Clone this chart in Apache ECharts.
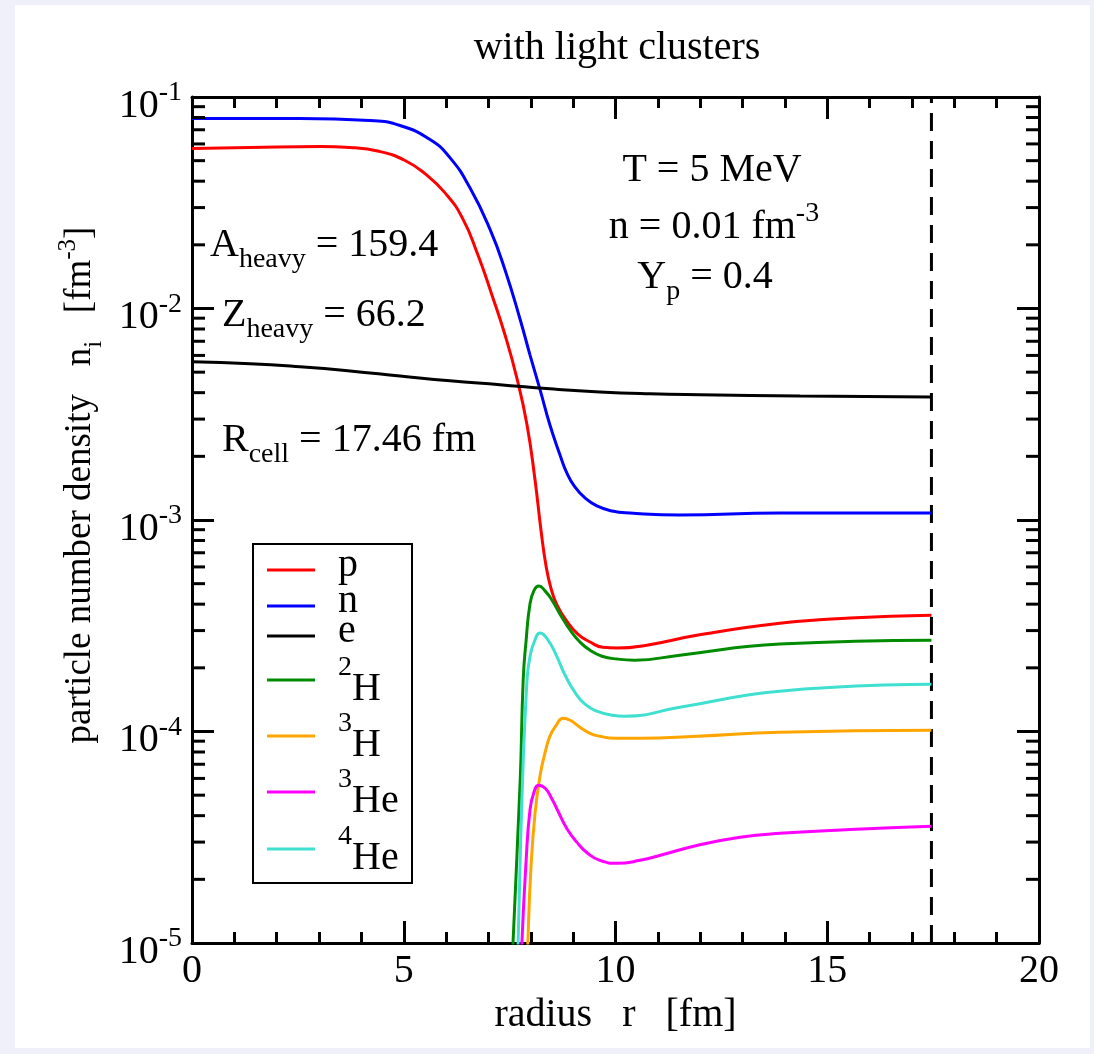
<!DOCTYPE html>
<html>
<head>
<meta charset="utf-8">
<script src="https://cdn.jsdelivr.net/npm/echarts@6/dist/echarts.min.js"></script>
<style>
  html, body { margin: 0; padding: 0; background: #f0f0fa; }
  #panel { position: absolute; left: 15px; top: 5px; width: 1075px; height: 1043px; background: #ffffff; }
  #chart { position: absolute; left: 0; top: 0; width: 1094px; height: 1054px; }
</style>
</head>
<body>
<div id="panel"></div>
<div id="chart"></div>
<script>
// Wigner-Seitz cell radius [fm]
const R_CELL = 17.46;

// radius r [fm] and number density n_i [fm^-3] for each particle species
const rP = [0, 1.37, 3.02, 3.73, 4.44, 5.03, 5.50, 5.97, 6.38, 6.75, 7.08, 7.39, 7.67, 7.91, 8.10, 8.24, 8.36, 8.48, 8.62, 8.85, 9.11, 9.40, 9.70, 10.04, 10.74, 11.92, 13.88, 15.54, 17.46];
const nP = [0.0571, 0.0577, 0.0583, 0.0577, 0.0552, 0.0501, 0.0434, 0.0353, 0.0269, 0.01796, 0.01162, 0.00751, 0.00470, 0.00282, 0.001546, 0.000897, 0.000606, 0.000472, 0.000396, 0.000333, 0.000289, 0.000265, 0.000250, 0.000248, 0.000256, 0.000285, 0.000325, 0.000344, 0.000355];

const rN = [0, 2.55, 4.20, 4.91, 5.62, 6.09, 6.56, 7.04, 7.39, 7.75, 7.98, 8.22, 8.45, 8.69, 8.85, 9.04, 9.28, 9.56, 9.92, 10.34, 11.52, 13.88, 17.46];
const nN = [0.0791, 0.0791, 0.0774, 0.0733, 0.0629, 0.0517, 0.0373, 0.0236, 0.01526, 0.00885, 0.00604, 0.00412, 0.00282, 0.00203, 0.001669, 0.001433, 0.001271, 0.001165, 0.001103, 0.001079, 0.001056, 0.001079, 0.001079];

const rE = [0, 1.37, 2.55, 3.73, 4.91, 6.09, 7.27, 8.45, 9.63, 10.81, 12.00, 14.36, 17.46];
const nE = [0.00560, 0.00548, 0.00530, 0.00507, 0.00480, 0.00455, 0.00436, 0.00417, 0.00403, 0.00395, 0.00391, 0.00386, 0.00382];

const r2H = [7.53, 7.58, 7.75, 7.82, 7.89, 7.98, 8.08, 8.19, 8.34, 8.50, 8.69, 8.93, 9.16, 9.40, 9.68, 10.04, 10.46, 11.52, 13.88, 17.46];
const n2H = [5e-6, 1e-5, 5.88e-5, 1.748e-4, 2.70e-4, 4.00e-4, 4.66e-4, 4.87e-4, 4.61e-4, 4.18e-4, 3.59e-4, 3.015e-4, 2.65e-4, 2.42e-4, 2.27e-4, 2.20e-4, 2.174e-4, 2.296e-4, 2.59e-4, 2.70e-4];

const r3H = [7.88, 7.93, 8.00, 8.10, 8.22, 8.34, 8.45, 8.60, 8.76, 8.93, 9.16, 9.40, 9.63, 9.99, 10.58, 11.92, 13.88, 17.46];
const n3H = [5e-6, 1e-5, 2.20e-5, 4.10e-5, 6.21e-5, 7.98e-5, 9.49e-5, 1.070e-4, 1.155e-4, 1.130e-4, 1.047e-4, 9.81e-5, 9.49e-5, 9.29e-5, 9.29e-5, 9.49e-5, 9.92e-5, 1.014e-4];

const r3He = [7.75, 7.79, 7.89, 7.98, 8.08, 8.19, 8.34, 8.48, 8.62, 8.85, 9.09, 9.35, 9.63, 10.04, 10.58, 11.12, 11.92, 12.94, 13.88, 15.54, 17.46];
const n3He = [5e-6, 1e-5, 2.46e-5, 4.24e-5, 5.21e-5, 5.57e-5, 5.39e-5, 4.88e-5, 4.29e-5, 3.48e-5, 2.99e-5, 2.65e-5, 2.46e-5, 2.38e-5, 2.46e-5, 2.62e-5, 2.89e-5, 3.16e-5, 3.30e-5, 3.44e-5, 3.56e-5];

const r4He = [7.65, 7.70, 7.79, 7.91, 7.98, 8.08, 8.22, 8.41, 8.60, 8.81, 9.04, 9.28, 9.56, 9.92, 10.22, 11.52, 13.88, 17.46];
const n4He = [5e-6, 1e-5, 4.73e-5, 1.748e-4, 2.25e-4, 2.65e-4, 2.92e-4, 2.70e-4, 2.296e-4, 1.846e-4, 1.534e-4, 1.346e-4, 1.247e-4, 1.194e-4, 1.181e-4, 1.302e-4, 1.551e-4, 1.674e-4];

// species: legend label (rich text), colour, radii, densities
const speciesLabels = ['p', 'n', 'e', '{s|2}{b|H}', '{s|3}{b|H}', '{s|3}{b|He}', '{s|4}{b|He}'];
const speciesColors = ['#ff0000', '#0000ff', '#000000', '#008b00', '#ffa500', '#ff00ff', '#40e0d0'];
const speciesR = [rP, rN, rE, r2H, r3H, r3He, r4He];
const speciesN = [nP, nN, nE, n2H, n3H, n3He, n4He];

// axis ranges
const X_MIN = 0, X_MAX = 20, X_STEP = 5;
const Y_MIN = 1e-5, Y_MAX = 1e-1;

const SERIF = 'Liberation Serif';
const FS = 40, FS_SMALL = 28;

const richText = {
  b:   { fontSize: FS, fontFamily: SERIF, fill: '#000' },
  sup: { fontSize: FS_SMALL, fontFamily: SERIF, fill: '#000', padding: [0, 0, 26, 0] },
  sub: { fontSize: FS_SMALL, fontFamily: SERIF, fill: '#000', padding: [30, 0, 0, 0] }
};
const richTitleY = {
  b:   { fontSize: 37, fontFamily: SERIF, fill: '#000' },
  sup: { fontSize: 25, fontFamily: SERIF, fill: '#000', padding: [0, 0, 24, 0] },
  sub: { fontSize: 25, fontFamily: SERIF, fill: '#000', padding: [28, 0, 0, 0] }
};

function zip(xs, ys) { return xs.map((x, i) => [x, ys[i]]); }

const chart = echarts.init(document.getElementById('chart'), null, { renderer: 'canvas' });

const grid = { left: 192, top: 97, right: 55, bottom: 111 };

// log-decade minor tick values (2..9 x 10^d)
const yMinor = [];
for (let d = -5; d <= -2; d++) for (let k = 2; k <= 9; k++) yMinor.push([0, k * Math.pow(10, d)]);

const lineSeries = speciesR.map((rs, i) => ({
  type: 'line',
  name: 'species' + i,
  xAxisIndex: 0, yAxisIndex: 0,
  data: zip(rs, speciesN[i]),
  showSymbol: false,
  symbol: 'none',
  smooth: 0.5,
  lineStyle: { color: speciesColors[i], width: 3 },
  z: 3
}));

const axisTickCommon = { show: true, inside: true, length: 22, lineStyle: { color: '#000', width: 3 } };

const option = {
  animation: false,
  backgroundColor: 'transparent',
  grid: grid,
  xAxis: [
    {
      type: 'value', min: X_MIN, max: X_MAX, interval: X_STEP, position: 'bottom',
      axisLine: { show: true, onZero: false, lineStyle: { color: '#000', width: 3 } },
      axisTick: axisTickCommon,
      minorTick: { show: true, splitNumber: 5, length: 11, lineStyle: { color: '#000', width: 3 } },
      splitLine: { show: false },
      axisLabel: { show: true, margin: 8, fontSize: FS, fontFamily: SERIF, color: '#000', showMinLabel: true, showMaxLabel: true },
      name: 'radius   r   [fm]', nameLocation: 'middle', nameGap: 52,
      nameTextStyle: { fontSize: FS, fontFamily: SERIF, color: '#000' }
    },
    {
      type: 'value', min: X_MIN, max: X_MAX, interval: X_STEP, position: 'top',
      axisLine: { show: true, onZero: false, lineStyle: { color: '#000', width: 3 } },
      axisTick: axisTickCommon,
      minorTick: { show: true, splitNumber: 5, length: 11, lineStyle: { color: '#000', width: 3 } },
      splitLine: { show: false },
      axisLabel: { show: false }
    }
  ],
  yAxis: [
    {
      type: 'log', logBase: 10, min: Y_MIN, max: Y_MAX, position: 'left',
      axisLine: { show: true, onZero: false, lineStyle: { color: '#000', width: 3 } },
      axisTick: axisTickCommon,
      splitLine: { show: false },
      axisLabel: {
        show: true, margin: 10, showMinLabel: true, showMaxLabel: true,
        formatter: v => '{b|10}{s|' + Math.round(Math.log10(v)) + '}',
        rich: {
          b: { fontSize: FS, fontFamily: SERIF, color: '#000', padding: [18, 0, 0, 0] },
          s: { fontSize: FS_SMALL, fontFamily: SERIF, color: '#000', padding: [0, 0, 8, 0] }
        }
      }
    },
    {
      type: 'log', logBase: 10, min: Y_MIN, max: Y_MAX, position: 'right',
      axisLine: { show: true, onZero: false, lineStyle: { color: '#000', width: 3 } },
      axisTick: axisTickCommon,
      splitLine: { show: false },
      axisLabel: { show: false }
    }
  ],
  series: lineSeries.concat([
    {
      // cell boundary
      type: 'line', name: 'cell',
      data: [[R_CELL, Y_MIN], [R_CELL, Y_MAX]],
      showSymbol: false, symbol: 'none',
      lineStyle: { color: '#000', width: 3, type: [18, 10] },
      z: 2
    },
    {
      // logarithmic minor ticks on left and right frame
      type: 'custom', name: 'yMinor',
      xAxisIndex: 0, yAxisIndex: 0,
      data: yMinor, silent: true, clip: false, z: 4,
      encode: { x: 0, y: 1 },
      renderItem: (params, api) => {
        const left = api.coord([X_MIN, api.value(1)]);
        const right = api.coord([X_MAX, api.value(1)]);
        return {
          type: 'group',
          children: [
            { type: 'line', shape: { x1: left[0], y1: left[1], x2: left[0] + 13, y2: left[1] }, style: { stroke: '#000', lineWidth: 3 } },
            { type: 'line', shape: { x1: right[0], y1: right[1], x2: right[0] - 13, y2: right[1] }, style: { stroke: '#000', lineWidth: 3 } }
          ]
        };
      }
    }
  ]),
  graphic: []
};

// text annotations
function label(text, x, y, align, rich, extra) {
  return Object.assign({
    type: 'text', x: x, y: y, silent: true, z: 10,
    style: { text: text, rich: rich || richText, align: align, verticalAlign: 'middle', fontSize: FS, fontFamily: SERIF, fill: '#000' }
  }, extra || {});
}

const g = option.graphic;
g.push(label('{b|with light clusters}', 617, 48, 'center'));
g.push(label('{b|A}{sub|heavy}{b| = 159.4}', 210, 245, 'left'));
g.push(label('{b|Z}{sub|heavy}{b| = 66.2}', 222, 315, 'left'));
g.push(label('{b|R}{sub|cell}{b| = ' + R_CELL.toFixed(2) + ' fm}', 222, 440, 'left'));
g.push(label('{b|T = 5 MeV}', 712, 170, 'center'));
g.push(label('{b|n = 0.01 fm}{sup|-3}', 714, 227, 'center'));
g.push(label('{b|Y}{sub|p}{b| = 0.4}', 705, 277, 'center'));
g.push(label('{b|particle number density   n}{sub|i}{b|   [fm}{sup|-3}{b|]}', 80, 485, 'center', richTitleY, { rotation: Math.PI / 2 }));

// legend box
const LEG = { x: 253, y: 544, w: 159, h: 339, lineX1: 267, lineX2: 315, textX: 338 };
const legendRows = [570, 606, 636, 680, 736, 792, 849];
g.push({ type: 'rect', silent: true, z: 9, shape: { x: LEG.x, y: LEG.y, width: LEG.w, height: LEG.h }, style: { fill: '#fff', stroke: '#000', lineWidth: 2 } });
const legendRich = {
  b: { fontSize: FS, fontFamily: SERIF, fill: '#000' },
  s: { fontSize: 28, fontFamily: SERIF, fill: '#000', padding: [0, 0, 44, 0] }
};
speciesLabels.forEach((lab, i) => {
  const y = legendRows[i];
  g.push({ type: 'line', silent: true, z: 10, shape: { x1: LEG.lineX1, y1: y, x2: LEG.lineX2, y2: y }, style: { stroke: speciesColors[i], lineWidth: 3 } });
  const isotope = lab.indexOf('{') === 0;
  g.push({
    type: 'text', silent: true, z: 10, x: LEG.textX, y: isotope ? y + 9.5 : y - 5,
    style: { text: isotope ? lab : '{b|' + lab + '}', rich: legendRich, align: 'left', verticalAlign: 'middle', fontSize: FS, fontFamily: SERIF, fill: '#000' }
  });
});

chart.setOption(option);
</script>
</body>
</html>
